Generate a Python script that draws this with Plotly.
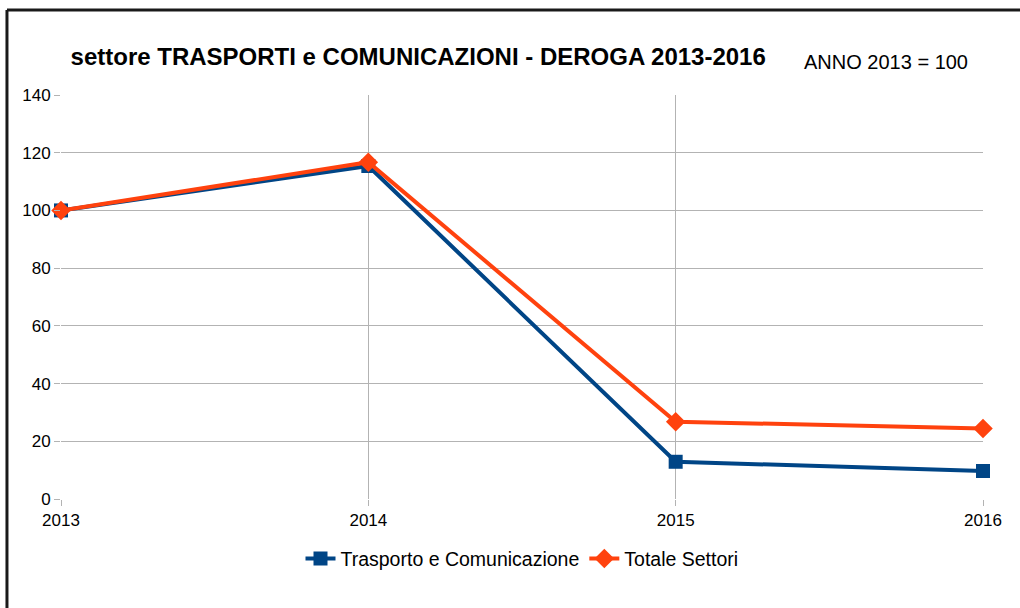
import plotly.graph_objects as go

years = [2013, 2014, 2015, 2016]
trasporto = [100, 115.4, 12.9, 9.7]
totale = [100, 116.7, 26.8, 24.4]
series_names = ["Trasporto e Comunicazione", "Totale Settori"]

fig = go.Figure()
fig.add_trace(go.Scatter(
    x=years, y=trasporto, name=series_names[0], mode="lines+markers",
    line=dict(color="#004586", width=4), cliponaxis=False,
    marker=dict(symbol="square", size=14, color="#004586"),
))
fig.add_trace(go.Scatter(
    x=years, y=totale, name=series_names[1], mode="lines+markers",
    line=dict(color="#ff420e", width=4), cliponaxis=False,
    marker=dict(symbol="diamond", size=15, color="#ff420e"),
))

fig.update_layout(
    width=1020, height=608,
    margin=dict(l=61, r=37, t=95, b=109),
    paper_bgcolor="white", plot_bgcolor="white",
    font=dict(family="Liberation Sans, Arial, sans-serif", size=17, color="#000000"),
    title=dict(text="<b>settore TRASPORTI e COMUNICAZIONI - DEROGA 2013-2016</b>",
               font=dict(family="Liberation Sans, sans-serif", size=24, color="#000"),
               x=0.41, xanchor="center", y=0.907, yanchor="middle"),
    showlegend=True,
    legend=dict(orientation="h", x=0.5, xanchor="center", y=-0.1, yanchor="top",
                font=dict(size=19.5), traceorder="normal"),
    xaxis=dict(range=[2013, 2016], tickvals=years, ticktext=[str(y) for y in years],
               showgrid=True, gridcolor="#b3b3b3", gridwidth=1, zeroline=False,
               ticks="outside", ticklen=6, tickcolor="#b3b3b3", showline=False,
               tickfont=dict(size=17)),
    yaxis=dict(range=[0, 140], dtick=20, showgrid=True, gridcolor="#b3b3b3", gridwidth=1,
               zeroline=False, ticks="outside", ticklen=6, tickcolor="#b3b3b3",
               showline=False, tickfont=dict(size=17)),
    annotations=[dict(text="ANNO 2013 = 100", xref="paper", yref="paper",
                      x=0.986, y=1.082, xanchor="right", yanchor="middle", showarrow=False,
                      font=dict(family="Liberation Sans, sans-serif", size=20, color="#000"))],
    shapes=[
        dict(type="line", xref="paper", yref="paper", x0=-0.0586, x1=1.05, y0=1.2104, y1=1.2104,
             line=dict(color="#1a1a1a", width=3)),
        dict(type="line", xref="paper", yref="paper", x0=-0.0586, x1=-0.0586, y0=1.2104, y1=-0.3,
             line=dict(color="#1a1a1a", width=3)),
    ],
)

fig.write_html("out.html", config={"displayModeBar": False},
               post_script="document.body.style.margin='0';")
